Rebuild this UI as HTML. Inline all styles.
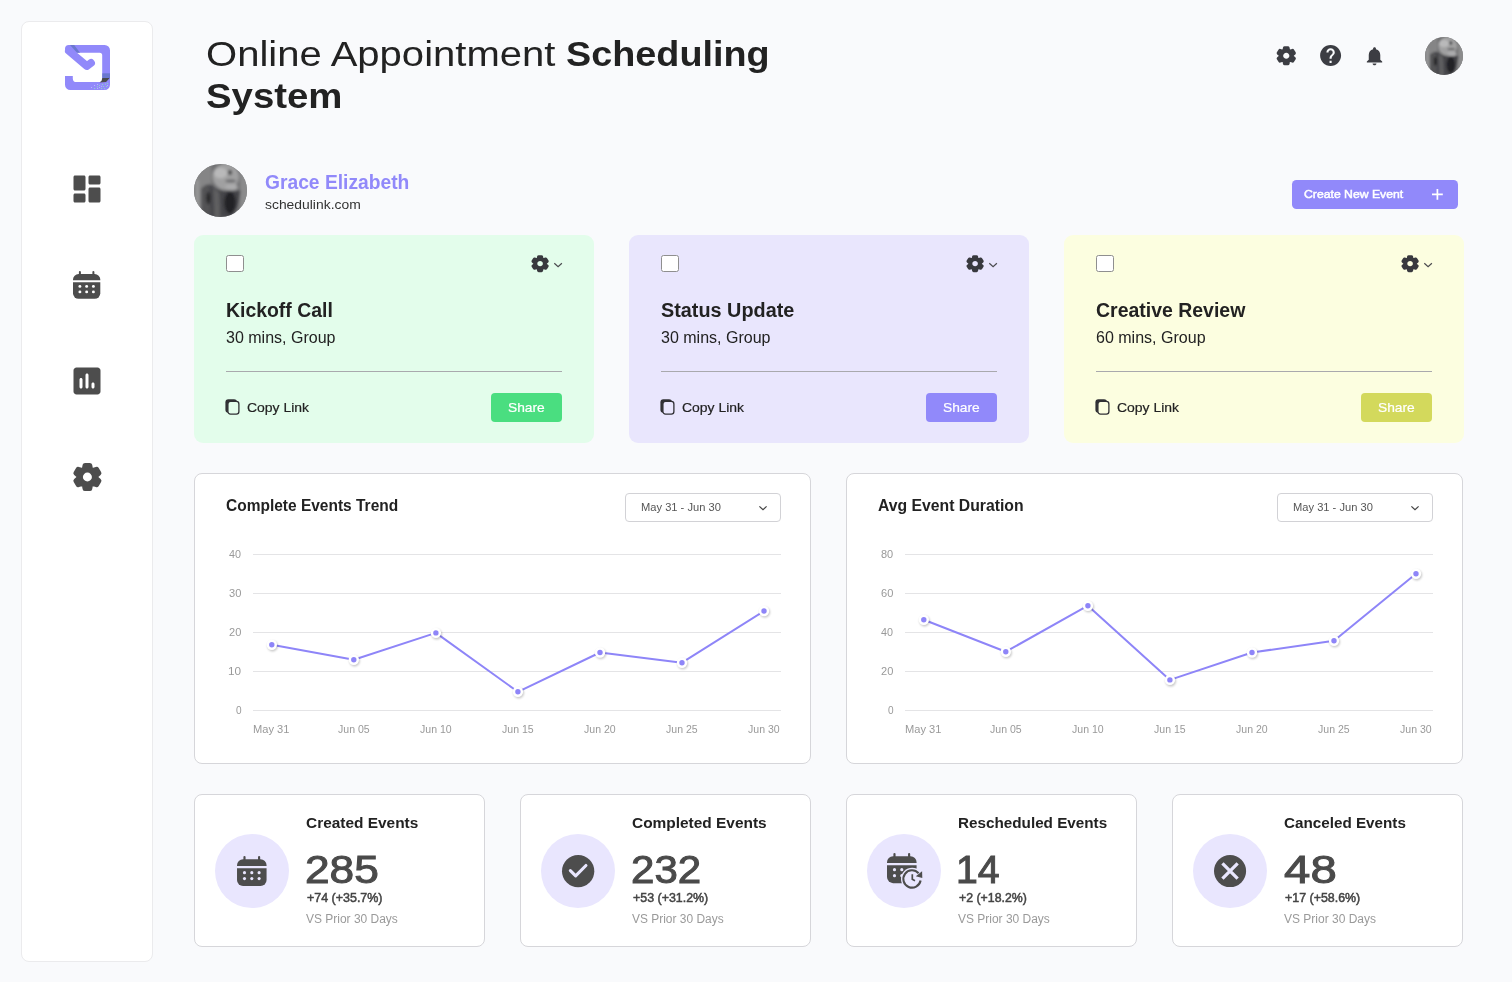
<!DOCTYPE html>
<html lang="en"><head><meta charset="utf-8"><title>Online Appointment Scheduling System</title>
<style>
html,body{margin:0;padding:0}
body{width:1512px;height:982px;overflow:hidden;position:relative;background:#f9fafc;font-family:'Liberation Sans',sans-serif;color:#222}
.t{position:absolute;white-space:pre;transform-origin:0 50%;display:block}
.i{position:absolute;display:block;overflow:visible}
.b{position:absolute;box-sizing:border-box}
aside{position:absolute;box-sizing:border-box;left:21px;top:21px;width:132px;height:941px;background:#fff;border:1px solid #ebebed;border-radius:8px}
.card{position:absolute;box-sizing:border-box;background:#fff;border:1px solid #d6d6da;border-radius:8px}
.ev{position:absolute;top:235px;width:400px;height:207.600px;border-radius:9px}
.cb{position:absolute;box-sizing:border-box;width:18px;height:17px;background:#fff;border:1px solid #8f8f8f;border-radius:2.5px}
.hr{position:absolute;height:1px;background:#a9a9ad}
.share{position:absolute;width:71px;height:28.700px;border-radius:4px;top:393.2px}
.av{position:absolute;border-radius:50%;overflow:hidden;background:#6a6a6c}
.dd{position:absolute;box-sizing:border-box;top:493px;width:156px;height:29px;border:1px solid #d2d2d6;border-radius:4px;background:#fff}
.circ{position:absolute;width:74px;height:74px;border-radius:50%;background:#e9e6fe;top:834px}
</style></head><body>
<aside></aside>
<svg class="i" style="left:65.00px;top:45.00px" width="45.00" height="45.00" viewBox="0 0 45 45" ><g fill="none" stroke="#9189fa" stroke-width="7.7">
<path d="M3.85 5.900L21.800 21.060L26.080 17.920" stroke-linecap="round" stroke-linejoin="round"/></g>
<path fill="#9189fa" d="M0 31V39.700A5.300 5.300 0 0 0 5.300 45H39.700A5.300 5.300 0 0 0 45 39.700V5.300A5.300 5.300 0 0 0 39.700 0H3.850A3.850 3.850 0 0 0 3.850 7.700H34.700A2.500 2.500 0 0 1 37.200 10.200V34.600A2.500 2.500 0 0 1 34.700 37.100H11.500A3.700 3.700 0 0 1 7.800 33.400V31Z"/>
<path d="M37.300 28.300h7.700v4.700h-7.700z" fill="#6b78cf"/>
<path d="M37.300 33h7.400l-3.600 4l-6.600 0.500q2.800-1.600 2.800-4.500z" fill="#4a4a4c"/>
<path d="M5 0h4.200l5.800 7.700h-3z" fill="#6b78cf"/>
<g fill="#8dfab0"><circle cx="29.700" cy="43.500" r=".5"/><circle cx="32.600" cy="41.700" r=".5"/><circle cx="34.700" cy="40.500" r=".5"/><circle cx="37.600" cy="39.400" r=".5"/><circle cx="40.500" cy="39" r=".5"/><circle cx="42.600" cy="38.300" r=".5"/><circle cx="38.600" cy="41.600" r=".5"/><circle cx="41.600" cy="41.600" r=".5"/><circle cx="36.700" cy="43.500" r=".5"/><circle cx="39.600" cy="43.700" r=".5"/></g>
<g fill="#c9c5ff"><circle cx="26.500" cy="42.500" r=".5"/><circle cx="29.600" cy="40.500" r=".5"/><circle cx="32.600" cy="39.500" r=".5"/><circle cx="34.600" cy="42.500" r=".5"/><circle cx="36.600" cy="41.300" r=".5"/><circle cx="32.600" cy="43.600" r=".5"/><circle cx="42.600" cy="40.500" r=".5"/></g></svg>
<svg class="i" style="left:68.50px;top:170.50px" width="36.00" height="36.00" viewBox="0 0 24 24" ><path fill="#4d4d4d" d="M4 13h6c.55 0 1-.45 1-1V4c0-.55-.45-1-1-1H4c-.55 0-1 .45-1 1v8c0 .55.45 1 1 1zm0 8h6c.55 0 1-.45 1-1v-4c0-.55-.45-1-1-1H4c-.55 0-1 .45-1 1v4c0 .55.45 1 1 1zm10 0h6c.55 0 1-.45 1-1v-8c0-.55-.45-1-1-1h-6c-.55 0-1 .45-1 1v8c0 .55.45 1 1 1zM13 4v4c0 .55.45 1 1 1h6c.55 0 1-.45 1-1V4c0-.55-.45-1-1-1h-6c-.55 0-1 .45-1 1z"/></svg>
<svg class="i" style="left:73.00px;top:270.90px" width="27.30" height="27.80" viewBox="0 0 27.3 27.8" ><g fill="#4d4d4d"><rect x="5.9" y="0" width="2" height="5" rx="1"/><rect x="19.4" y="0" width="2" height="5" rx="1"/><path d="M0 9.3V8.6a5.6 5.600 0 0 1 5.600-5.600H21.700a5.600 5.600 0 0 1 5.600 5.600V9.300z"/><path d="M0 11.3H27.300V22.200a5.600 5.600 0 0 1-5.600 5.600H5.600a5.600 5.600 0 0 1-5.600-5.600z"/></g><circle cx="6.9" cy="15.4" r="1.45" fill="#fff"/><circle cx="13.65" cy="15.4" r="1.45" fill="#fff"/><circle cx="20.4" cy="15.4" r="1.45" fill="#fff"/><circle cx="6.9" cy="20.9" r="1.45" fill="#fff"/><circle cx="13.65" cy="20.9" r="1.45" fill="#fff"/><circle cx="20.4" cy="20.9" r="1.45" fill="#fff"/></svg>
<svg class="i" style="left:68.50px;top:362.50px" width="36.00" height="36.00" viewBox="0 0 24 24" ><path fill="#4d4d4d" d="M19 3H5c-1.1 0-2 .9-2 2v14c0 1.1.9 2 2 2h14c1.1 0 2-.9 2-2V5c0-1.1-.9-2-2-2zM8 17c-.55 0-1-.45-1-1v-5c0-.55.45-1 1-1s1 .45 1 1v5c0 .55-.45 1-1 1zm4 0c-.55 0-1-.45-1-1V8c0-.55.45-1 1-1s1 .45 1 1v8c0 .55-.45 1-1 1zm4 0c-.55 0-1-.45-1-1v-2c0-.55.45-1 1-1s1 .45 1 1v2c0 .55-.45 1-1 1z"/></svg>
<svg class="i" style="left:70.59px;top:460.90px" width="32.82" height="32.00" viewBox="-16 -16 32 32" preserveAspectRatio="none"><path fill="#4d4d4d" stroke="#4d4d4d" stroke-width="4.8" stroke-linejoin="round" fill-rule="evenodd" d="M-3.03 -8.05L-2.30 -11.70L2.30 -11.70L3.03 -8.05L5.45 -6.65L8.98 -7.84L11.28 -3.86L8.49 -1.40L8.49 1.40L11.28 3.86L8.98 7.84L5.45 6.65L3.03 8.05L2.30 11.70L-2.30 11.70L-3.03 8.05L-5.45 6.65L-8.98 7.84L-11.28 3.86L-8.49 1.40L-8.49 -1.40L-11.28 -3.86L-8.98 -7.84L-5.45 -6.65ZM6.80 0A6.80 6.80 0 1 0 -6.80 0A6.80 6.80 0 1 0 6.80 0Z"/></svg>
<header>
<span class="t" style="left:205.86px;top:33px;font-size:35.4px;line-height:42px;font-weight:400;color:#222;letter-spacing:0.000px;transform:scaleX(1.1312);">Online Appointment</span><span class="t" style="left:566.23px;top:33px;font-size:35.4px;line-height:42px;font-weight:700;color:#222;letter-spacing:0.000px;transform:scaleX(1.0677);">Scheduling</span><span class="t" style="left:206.21px;top:75px;font-size:35.4px;line-height:42px;font-weight:700;color:#222;letter-spacing:-0.000px;transform:scaleX(1.0836);">System</span>
<svg class="i" style="left:1275.28px;top:44.62px" width="22.54" height="21.56" viewBox="-16 -16 32 32" preserveAspectRatio="none"><path fill="#3c3d43" stroke="#3c3d43" stroke-width="4.8" stroke-linejoin="round" fill-rule="evenodd" d="M-3.03 -8.05L-2.30 -11.70L2.30 -11.70L3.03 -8.05L5.45 -6.65L8.98 -7.84L11.28 -3.86L8.49 -1.40L8.49 1.40L11.28 3.86L8.98 7.84L5.45 6.65L3.03 8.05L2.30 11.70L-2.30 11.70L-3.03 8.05L-5.45 6.65L-8.98 7.84L-11.28 3.86L-8.49 1.40L-8.49 -1.40L-11.28 -3.86L-8.98 -7.84L-5.45 -6.65ZM6.80 0A6.80 6.80 0 1 0 -6.80 0A6.80 6.80 0 1 0 6.80 0Z"/></svg>
<svg class="i" style="left:1318.00px;top:42.80px" width="25.20" height="25.20" viewBox="0 0 24 24" ><path fill="#3c3d43" d="M12 2C6.48 2 2 6.48 2 12s4.48 10 10 10 10-4.48 10-10S17.52 2 12 2zm1 17h-2v-2h2v2zm2.07-7.75l-.9.92C13.45 12.9 13 13.5 13 15h-2v-.5c0-1.1.45-2.1 1.17-2.830l1.240-1.260c.37-.36.59-.86.59-1.410 0-1.100-.9-2-2-2s-2 .9-2 2H8c0-2.210 1.790-4 4-4s4 1.790 4 4c0 .880-.36 1.680-.93 2.250z"/></svg>
<svg class="i" style="left:1363.18px;top:44.80px" width="23.04" height="22.08" viewBox="0 0 24 24" preserveAspectRatio="none"><path fill="#3c3d43" d="M12 22c1.1 0 2-.9 2-2h-4c0 1.100.89 2 2 2zm6-6v-5c0-3.070-1.640-5.640-4.500-6.320V4c0-.830-.67-1.500-1.500-1.500s-1.500.670-1.500 1.500v.680C7.630 5.360 6 7.920 6 11v5l-2 2v1h16v-1l-2-2z"/></svg>
<svg class="i" style="left:1425.00px;top:36.70px" width="38.00" height="38.00" viewBox="0 0 100 100" ><defs><clipPath id="avc1"><circle cx="50" cy="50" r="50"/></clipPath><filter id="avb1" x="-10%" y="-10%" width="120%" height="120%"><feGaussianBlur stdDeviation="3"/></filter></defs>
<g clip-path="url(#avc1)"><rect width="100" height="100" fill="#6f6f71"/><g filter="url(#avb1)">
<rect x="-5" y="-5" width="38" height="110" fill="#858586"/>
<rect x="4" y="30" width="5" height="60" fill="#9a9a9b"/>
<rect x="87" y="15" width="20" height="80" fill="#8b8b8c"/>
<ellipse cx="60" cy="24" rx="25" ry="25" fill="#a0a0a1"/>
<ellipse cx="50" cy="17" rx="13" ry="10" fill="#b9b9ba"/>
<ellipse cx="71" cy="44" rx="12" ry="6" fill="#acacad"/>
<path d="M14 46Q24 36 34 40Q44 50 60 51L88 50Q86 80 70 100L14 104Z" fill="#444448"/>
<path d="M36 44L48 54L50 104L38 104Z" fill="#5e5e61"/>
<path d="M14 46Q22 38 30 44L32 100L14 100Z" fill="#525255"/>
<ellipse cx="68" cy="73" rx="11" ry="21" fill="#232325"/>
<ellipse cx="27" cy="64" rx="3.600" ry="12" fill="#222224"/>
<ellipse cx="68" cy="16" rx="3.600" ry="4.600" fill="#2e2e30"/>
<ellipse cx="69" cy="32" rx="10" ry="2.200" fill="#59595c"/>
</g></g></svg>
</header>
<section>
<svg class="i" style="left:194.00px;top:163.70px" width="53.00" height="53.00" viewBox="0 0 100 100" ><defs><clipPath id="avc2"><circle cx="50" cy="50" r="50"/></clipPath><filter id="avb2" x="-10%" y="-10%" width="120%" height="120%"><feGaussianBlur stdDeviation="3"/></filter></defs>
<g clip-path="url(#avc2)"><rect width="100" height="100" fill="#6f6f71"/><g filter="url(#avb2)">
<rect x="-5" y="-5" width="38" height="110" fill="#858586"/>
<rect x="4" y="30" width="5" height="60" fill="#9a9a9b"/>
<rect x="87" y="15" width="20" height="80" fill="#8b8b8c"/>
<ellipse cx="60" cy="24" rx="25" ry="25" fill="#a0a0a1"/>
<ellipse cx="50" cy="17" rx="13" ry="10" fill="#b9b9ba"/>
<ellipse cx="71" cy="44" rx="12" ry="6" fill="#acacad"/>
<path d="M14 46Q24 36 34 40Q44 50 60 51L88 50Q86 80 70 100L14 104Z" fill="#444448"/>
<path d="M36 44L48 54L50 104L38 104Z" fill="#5e5e61"/>
<path d="M14 46Q22 38 30 44L32 100L14 100Z" fill="#525255"/>
<ellipse cx="68" cy="73" rx="11" ry="21" fill="#232325"/>
<ellipse cx="27" cy="64" rx="3.600" ry="12" fill="#222224"/>
<ellipse cx="68" cy="16" rx="3.600" ry="4.600" fill="#2e2e30"/>
<ellipse cx="69" cy="32" rx="10" ry="2.200" fill="#59595c"/>
</g></g></svg>
<span class="t" style="left:265.21px;top:171px;font-size:19.5px;line-height:23px;font-weight:700;color:#9189fa;letter-spacing:0.000px;transform:scaleX(0.9868);">Grace Elizabeth</span><span class="t" style="left:265.35px;top:197px;font-size:13.5px;line-height:16px;font-weight:400;color:#333;letter-spacing:-0.000px;transform:scaleX(1.0288);">schedulink.com</span>
<div class="b" style="left:1292px;top:180px;width:166.300px;height:29.200px;border-radius:4.5px;background:#9189fa"></div>
<span class="t" style="left:1304.46px;top:187px;font-size:11.8px;line-height:14px;font-weight:400;color:#fff;letter-spacing:0.000px;transform:scaleX(1.0358);-webkit-text-stroke:0.5px currentColor;">Create New Event</span>
<svg class="i" style="left:1432.20px;top:189.30px" width="10.80" height="10.80" viewBox="0 0 10.8 10.8" ><path d="M5.400 0V10.800M0 5.400H10.800" stroke="#fff" stroke-width="1.700" fill="none"/></svg>
</section>
<section>
<article class="ev" style="left:194px;background:#e3fdeb"></article>
<div class="cb" style="left:226px;top:255px"></div>
<svg class="i" style="left:529.50px;top:253.85px" width="20.20" height="19.29" viewBox="-16 -16 32 32" preserveAspectRatio="none"><path fill="#38393e" stroke="#38393e" stroke-width="4.8" stroke-linejoin="round" fill-rule="evenodd" d="M-3.03 -8.05L-2.30 -11.70L2.30 -11.70L3.03 -8.05L5.45 -6.65L8.98 -7.84L11.28 -3.86L8.49 -1.40L8.49 1.40L11.28 3.86L8.98 7.84L5.45 6.65L3.03 8.05L2.30 11.70L-2.30 11.70L-3.03 8.05L-5.45 6.65L-8.98 7.84L-11.28 3.86L-8.49 1.40L-8.49 -1.40L-11.28 -3.86L-8.98 -7.84L-5.45 -6.65ZM6.80 0A6.80 6.80 0 1 0 -6.80 0A6.80 6.80 0 1 0 6.80 0Z"/></svg>
<svg class="i" style="left:553.90px;top:262.90px" width="8.20" height="4.20" viewBox="0 0 8.2 4.2" ><path d="M.3 .3L4.100 3.700L7.900 .3" stroke="#4a4a4e" stroke-width="1.200" fill="none"/></svg>
<span class="t" style="left:226.18px;top:298px;font-size:19.6px;line-height:24px;font-weight:700;color:#222;letter-spacing:0.000px;transform:scaleX(0.9907);">Kickoff Call</span>
<span class="t" style="left:225.89px;top:328px;font-size:16px;line-height:19px;font-weight:400;color:#222;letter-spacing:0.000px;transform:scaleX(1.0011);">30 mins, Group</span>
<div class="hr" style="left:226px;top:371px;width:336px"></div>
<svg class="i" style="left:224.80px;top:398.80px" width="15.00" height="16.20" viewBox="0 0 15 16.200" ><rect x=".4" y=".3" width="11.600" height="13.400" rx="3" fill="#303034"/><rect x="2.900" y="2.300" width="11" height="12.800" rx="2.600" fill="#e3fdeb" stroke="#303034" stroke-width="1.300"/></svg>
<span class="t" style="left:247.09px;top:400px;font-size:13.4px;line-height:16px;font-weight:400;color:#222;letter-spacing:0.000px;transform:scaleX(1.0407);-webkit-text-stroke:0.2px currentColor;">Copy Link</span>
<div class="share" style="left:491px;background:#4ade80"></div>
<span class="t" style="left:508.11px;top:400px;font-size:12.8px;line-height:15px;font-weight:400;color:#fff;letter-spacing:0.000px;transform:scaleX(1.0757);-webkit-text-stroke:0.2px currentColor;">Share</span>
<article class="ev" style="left:629px;background:#e9e6fd"></article>
<div class="cb" style="left:661px;top:255px"></div>
<svg class="i" style="left:964.50px;top:253.85px" width="20.20" height="19.29" viewBox="-16 -16 32 32" preserveAspectRatio="none"><path fill="#38393e" stroke="#38393e" stroke-width="4.8" stroke-linejoin="round" fill-rule="evenodd" d="M-3.03 -8.05L-2.30 -11.70L2.30 -11.70L3.03 -8.05L5.45 -6.65L8.98 -7.84L11.28 -3.86L8.49 -1.40L8.49 1.40L11.28 3.86L8.98 7.84L5.45 6.65L3.03 8.05L2.30 11.70L-2.30 11.70L-3.03 8.05L-5.45 6.65L-8.98 7.84L-11.28 3.86L-8.49 1.40L-8.49 -1.40L-11.28 -3.86L-8.98 -7.84L-5.45 -6.65ZM6.80 0A6.80 6.80 0 1 0 -6.80 0A6.80 6.80 0 1 0 6.80 0Z"/></svg>
<svg class="i" style="left:988.90px;top:262.90px" width="8.20" height="4.20" viewBox="0 0 8.2 4.2" ><path d="M.3 .3L4.100 3.700L7.900 .3" stroke="#4a4a4e" stroke-width="1.200" fill="none"/></svg>
<span class="t" style="left:660.92px;top:298px;font-size:19.6px;line-height:24px;font-weight:700;color:#222;letter-spacing:0.000px;transform:scaleX(1.0121);">Status Update</span>
<span class="t" style="left:660.89px;top:328px;font-size:16px;line-height:19px;font-weight:400;color:#222;letter-spacing:0.000px;transform:scaleX(1.0011);">30 mins, Group</span>
<div class="hr" style="left:661px;top:371px;width:336px"></div>
<svg class="i" style="left:659.80px;top:398.80px" width="15.00" height="16.20" viewBox="0 0 15 16.200" ><rect x=".4" y=".3" width="11.600" height="13.400" rx="3" fill="#303034"/><rect x="2.900" y="2.300" width="11" height="12.800" rx="2.600" fill="#e9e6fd" stroke="#303034" stroke-width="1.300"/></svg>
<span class="t" style="left:682.09px;top:400px;font-size:13.4px;line-height:16px;font-weight:400;color:#222;letter-spacing:0.000px;transform:scaleX(1.0407);-webkit-text-stroke:0.2px currentColor;">Copy Link</span>
<div class="share" style="left:926px;background:#9189fa"></div>
<span class="t" style="left:943.11px;top:400px;font-size:12.8px;line-height:15px;font-weight:400;color:#fff;letter-spacing:0.000px;transform:scaleX(1.0757);-webkit-text-stroke:0.2px currentColor;">Share</span>
<article class="ev" style="left:1064px;background:#fcfee0"></article>
<div class="cb" style="left:1096px;top:255px"></div>
<svg class="i" style="left:1399.50px;top:253.85px" width="20.20" height="19.29" viewBox="-16 -16 32 32" preserveAspectRatio="none"><path fill="#38393e" stroke="#38393e" stroke-width="4.8" stroke-linejoin="round" fill-rule="evenodd" d="M-3.03 -8.05L-2.30 -11.70L2.30 -11.70L3.03 -8.05L5.45 -6.65L8.98 -7.84L11.28 -3.86L8.49 -1.40L8.49 1.40L11.28 3.86L8.98 7.84L5.45 6.65L3.03 8.05L2.30 11.70L-2.30 11.70L-3.03 8.05L-5.45 6.65L-8.98 7.84L-11.28 3.86L-8.49 1.40L-8.49 -1.40L-11.28 -3.86L-8.98 -7.84L-5.45 -6.65ZM6.80 0A6.80 6.80 0 1 0 -6.80 0A6.80 6.80 0 1 0 6.80 0Z"/></svg>
<svg class="i" style="left:1423.90px;top:262.90px" width="8.20" height="4.20" viewBox="0 0 8.2 4.2" ><path d="M.3 .3L4.100 3.700L7.900 .3" stroke="#4a4a4e" stroke-width="1.200" fill="none"/></svg>
<span class="t" style="left:1095.86px;top:298px;font-size:19.6px;line-height:24px;font-weight:700;color:#222;letter-spacing:0.000px;transform:scaleX(0.9932);">Creative Review</span>
<span class="t" style="left:1095.85px;top:328px;font-size:16px;line-height:19px;font-weight:400;color:#222;letter-spacing:0.000px;transform:scaleX(1.0015);">60 mins, Group</span>
<div class="hr" style="left:1096px;top:371px;width:336px"></div>
<svg class="i" style="left:1094.80px;top:398.80px" width="15.00" height="16.20" viewBox="0 0 15 16.200" ><rect x=".4" y=".3" width="11.600" height="13.400" rx="3" fill="#303034"/><rect x="2.900" y="2.300" width="11" height="12.800" rx="2.600" fill="#fcfee0" stroke="#303034" stroke-width="1.300"/></svg>
<span class="t" style="left:1117.09px;top:400px;font-size:13.4px;line-height:16px;font-weight:400;color:#222;letter-spacing:0.000px;transform:scaleX(1.0407);-webkit-text-stroke:0.2px currentColor;">Copy Link</span>
<div class="share" style="left:1361px;background:#d3d95c"></div>
<span class="t" style="left:1378.11px;top:400px;font-size:12.8px;line-height:15px;font-weight:400;color:#fff;letter-spacing:0.000px;transform:scaleX(1.0757);-webkit-text-stroke:0.2px currentColor;">Share</span>
</section>
<section>
<div class="card" style="left:194px;top:473px;width:617px;height:291px"></div>
<span class="t" style="left:226.20px;top:496px;font-size:15.6px;line-height:19px;font-weight:700;color:#222;letter-spacing:0.000px;transform:scaleX(0.9935);">Complete Events Trend</span>
<div class="dd" style="left:625px"></div>
<span class="t" style="left:640.87px;top:501px;font-size:10.8px;line-height:13px;font-weight:400;color:#555;letter-spacing:0.000px;transform:scaleX(1.0316);">May 31 - Jun 30</span>
<svg class="i" style="left:759.00px;top:506.10px" width="8.00" height="4.40" viewBox="0 0 8 4.400" ><path d="M.4 .4L4 3.800L7.600 .4" stroke="#444" stroke-width="1.200" fill="none"/></svg>
<svg class="i" style="left:194.00px;top:540.00px" width="617.00" height="180.00" viewBox="0 0 617 180" ><defs><filter id="ds0" x="-50%" y="-50%" width="200%" height="200%"><feGaussianBlur stdDeviation="1.1"/></filter></defs><line x1="59" x2="587" y1="14.5" y2="14.5" stroke="#e4e4e6" stroke-width="1"/><line x1="59" x2="587" y1="53.5" y2="53.5" stroke="#e4e4e6" stroke-width="1"/><line x1="59" x2="587" y1="92.5" y2="92.5" stroke="#e4e4e6" stroke-width="1"/><line x1="59" x2="587" y1="131.5" y2="131.5" stroke="#e4e4e6" stroke-width="1"/><line x1="59" x2="587" y1="170.5" y2="170.5" stroke="#e4e4e6" stroke-width="1"/><polyline points="77.8,104.8 159.8,119.8 241.9,92.9 323.9,151.8 406.0,112.5 488.0,122.7 570.0,71.0" fill="none" stroke="#8e85f8" stroke-width="2" stroke-linejoin="round"/><circle cx="78.6" cy="106.1" r="5.300" fill="#000" opacity=".22" filter="url(#ds0)"/><circle cx="77.8" cy="104.8" r="5.200" fill="#fff"/><circle cx="77.8" cy="104.8" r="2.700" fill="#8e85f8"/><circle cx="160.6" cy="121.1" r="5.300" fill="#000" opacity=".22" filter="url(#ds0)"/><circle cx="159.8" cy="119.8" r="5.200" fill="#fff"/><circle cx="159.8" cy="119.8" r="2.700" fill="#8e85f8"/><circle cx="242.7" cy="94.2" r="5.300" fill="#000" opacity=".22" filter="url(#ds0)"/><circle cx="241.9" cy="92.9" r="5.200" fill="#fff"/><circle cx="241.9" cy="92.9" r="2.700" fill="#8e85f8"/><circle cx="324.7" cy="153.1" r="5.300" fill="#000" opacity=".22" filter="url(#ds0)"/><circle cx="323.9" cy="151.8" r="5.200" fill="#fff"/><circle cx="323.9" cy="151.8" r="2.700" fill="#8e85f8"/><circle cx="406.8" cy="113.8" r="5.300" fill="#000" opacity=".22" filter="url(#ds0)"/><circle cx="406.0" cy="112.5" r="5.200" fill="#fff"/><circle cx="406.0" cy="112.5" r="2.700" fill="#8e85f8"/><circle cx="488.8" cy="124.0" r="5.300" fill="#000" opacity=".22" filter="url(#ds0)"/><circle cx="488.0" cy="122.7" r="5.200" fill="#fff"/><circle cx="488.0" cy="122.7" r="2.700" fill="#8e85f8"/><circle cx="570.8" cy="72.3" r="5.300" fill="#000" opacity=".22" filter="url(#ds0)"/><circle cx="570.0" cy="71.0" r="5.200" fill="#fff"/><circle cx="570.0" cy="71.0" r="2.700" fill="#8e85f8"/></svg>
<div class="card" style="left:846px;top:473px;width:617px;height:291px"></div>
<span class="t" style="left:878.03px;top:496px;font-size:15.6px;line-height:19px;font-weight:700;color:#222;letter-spacing:0.000px;transform:scaleX(1.0096);">Avg Event Duration</span>
<div class="dd" style="left:1277px"></div>
<span class="t" style="left:1292.87px;top:501px;font-size:10.8px;line-height:13px;font-weight:400;color:#555;letter-spacing:0.000px;transform:scaleX(1.0316);">May 31 - Jun 30</span>
<svg class="i" style="left:1411.00px;top:506.10px" width="8.00" height="4.40" viewBox="0 0 8 4.400" ><path d="M.4 .4L4 3.800L7.600 .4" stroke="#444" stroke-width="1.200" fill="none"/></svg>
<svg class="i" style="left:846.00px;top:540.00px" width="617.00" height="180.00" viewBox="0 0 617 180" ><defs><filter id="ds1" x="-50%" y="-50%" width="200%" height="200%"><feGaussianBlur stdDeviation="1.1"/></filter></defs><line x1="59" x2="587" y1="14.5" y2="14.5" stroke="#e4e4e6" stroke-width="1"/><line x1="59" x2="587" y1="53.5" y2="53.5" stroke="#e4e4e6" stroke-width="1"/><line x1="59" x2="587" y1="92.5" y2="92.5" stroke="#e4e4e6" stroke-width="1"/><line x1="59" x2="587" y1="131.5" y2="131.5" stroke="#e4e4e6" stroke-width="1"/><line x1="59" x2="587" y1="170.5" y2="170.5" stroke="#e4e4e6" stroke-width="1"/><polyline points="77.8,79.8 159.8,111.7 241.9,65.7 323.9,139.9 406.0,112.5 488.0,100.7 570.0,33.8" fill="none" stroke="#8e85f8" stroke-width="2" stroke-linejoin="round"/><circle cx="78.6" cy="81.1" r="5.300" fill="#000" opacity=".22" filter="url(#ds1)"/><circle cx="77.8" cy="79.8" r="5.200" fill="#fff"/><circle cx="77.8" cy="79.8" r="2.700" fill="#8e85f8"/><circle cx="160.6" cy="113.0" r="5.300" fill="#000" opacity=".22" filter="url(#ds1)"/><circle cx="159.8" cy="111.7" r="5.200" fill="#fff"/><circle cx="159.8" cy="111.7" r="2.700" fill="#8e85f8"/><circle cx="242.7" cy="67.0" r="5.300" fill="#000" opacity=".22" filter="url(#ds1)"/><circle cx="241.9" cy="65.7" r="5.200" fill="#fff"/><circle cx="241.9" cy="65.7" r="2.700" fill="#8e85f8"/><circle cx="324.7" cy="141.2" r="5.300" fill="#000" opacity=".22" filter="url(#ds1)"/><circle cx="323.9" cy="139.9" r="5.200" fill="#fff"/><circle cx="323.9" cy="139.9" r="2.700" fill="#8e85f8"/><circle cx="406.8" cy="113.8" r="5.300" fill="#000" opacity=".22" filter="url(#ds1)"/><circle cx="406.0" cy="112.5" r="5.200" fill="#fff"/><circle cx="406.0" cy="112.5" r="2.700" fill="#8e85f8"/><circle cx="488.8" cy="102.0" r="5.300" fill="#000" opacity=".22" filter="url(#ds1)"/><circle cx="488.0" cy="100.7" r="5.200" fill="#fff"/><circle cx="488.0" cy="100.7" r="2.700" fill="#8e85f8"/><circle cx="570.8" cy="35.1" r="5.300" fill="#000" opacity=".22" filter="url(#ds1)"/><circle cx="570.0" cy="33.8" r="5.200" fill="#fff"/><circle cx="570.0" cy="33.8" r="2.700" fill="#8e85f8"/></svg>
</section>
<section>
<div class="card" style="left:194px;top:794px;width:291px;height:153px"></div>
<div class="circ" style="left:215px"></div>
<div class="card" style="left:520px;top:794px;width:291px;height:153px"></div>
<div class="circ" style="left:541px"></div>
<div class="card" style="left:846px;top:794px;width:291px;height:153px"></div>
<div class="circ" style="left:867px"></div>
<div class="card" style="left:1172px;top:794px;width:291px;height:153px"></div>
<div class="circ" style="left:1193px"></div>
<svg class="i" style="left:236.90px;top:855.90px" width="29.60" height="30.10" viewBox="0 0 27.3 27.8" ><g fill="#4d4d4d"><rect x="5.9" y="0" width="2" height="5" rx="1"/><rect x="19.4" y="0" width="2" height="5" rx="1"/><path d="M0 9.3V8.6a5.6 5.600 0 0 1 5.600-5.600H21.700a5.600 5.600 0 0 1 5.600 5.600V9.300z"/><path d="M0 11.3H27.300V22.200a5.600 5.600 0 0 1-5.600 5.600H5.600a5.600 5.600 0 0 1-5.600-5.600z"/></g><circle cx="6.9" cy="15.4" r="1.45" fill="#e9e6fe"/><circle cx="13.65" cy="15.4" r="1.45" fill="#e9e6fe"/><circle cx="20.4" cy="15.4" r="1.45" fill="#e9e6fe"/><circle cx="6.9" cy="20.9" r="1.45" fill="#e9e6fe"/><circle cx="13.65" cy="20.9" r="1.45" fill="#e9e6fe"/><circle cx="20.4" cy="20.9" r="1.45" fill="#e9e6fe"/></svg>
<svg class="i" style="left:561.85px;top:854.85px" width="32.30" height="32.30" viewBox="0 0 32.3 32.3" ><circle cx="16.150" cy="16.150" r="16.150" fill="#4d4d4d"/><path d="M8.350 15.600L13.650 20.900L23.950 10.500" fill="none" stroke="#e9e6fe" stroke-width="3.100" stroke-linecap="round" stroke-linejoin="round"/></svg>
<svg class="i" style="left:887.00px;top:853.20px" width="36.00" height="36.00" viewBox="0 0 36 36" ><g transform="scale(1.084)"><g fill="#4d4d4d"><rect x="5.9" y="0" width="2" height="5" rx="1"/><rect x="19.4" y="0" width="2" height="5" rx="1"/><path d="M0 9.3V8.6a5.6 5.600 0 0 1 5.600-5.600H21.700a5.600 5.600 0 0 1 5.600 5.600V9.300z"/><path d="M0 11.3H27.300V22.200a5.600 5.600 0 0 1-5.600 5.600H5.600a5.600 5.600 0 0 1-5.600-5.600z"/></g><circle cx="6.9" cy="15.4" r="1.45" fill="#e9e6fe"/><circle cx="13.65" cy="15.4" r="1.45" fill="#e9e6fe"/><circle cx="6.9" cy="20.9" r="1.45" fill="#e9e6fe"/><circle cx="13.65" cy="20.9" r="1.45" fill="#e9e6fe"/></g><circle cx="25.200" cy="25.900" r="11.200" fill="#e9e6fe"/>
<path d="M33.600 27.500A8.700 8.700 0 1 1 31.600 20.200" fill="none" stroke="#4d4d4d" stroke-width="2.100"/>
<path d="M35.100 18.200L35.300 24.900L28.800 23.300z" fill="#4d4d4d"/>
<path d="M25.300 21.300V26.200L28 27.700" fill="none" stroke="#4d4d4d" stroke-width="1.700"/></svg>
<svg class="i" style="left:1213.95px;top:854.95px" width="32.10" height="32.10" viewBox="0 0 32.1 32.1" ><circle cx="16.050" cy="16.050" r="16.050" fill="#4d4d4d"/><path d="M8.450 8.450L23.650 23.650M23.650 8.450L8.450 23.650" stroke="#e9e6fe" stroke-width="3.300" fill="none"/></svg>
</section>
<span class="t" style="left:306.10px;top:814px;font-size:15.4px;line-height:18px;font-weight:700;color:#222;letter-spacing:-0.000px;transform:scaleX(1.0021);">Created Events</span>
<span class="t" style="left:305.13px;top:846px;font-size:39.4px;line-height:47px;font-weight:400;color:#4a4a4a;letter-spacing:0.000px;transform:scaleX(1.1234);-webkit-text-stroke:1.0px currentColor;">285</span>
<span class="t" style="left:306.53px;top:891px;font-size:12.5px;line-height:15px;font-weight:400;color:#444;letter-spacing:0.000px;transform:scaleX(0.9969);-webkit-text-stroke:0.5px currentColor;">+74 (+35.7%)</span>
<span class="t" style="left:305.55px;top:912px;font-size:12px;line-height:14px;font-weight:400;color:#9a9a9a;letter-spacing:0.000px;transform:scaleX(0.9976);">VS Prior 30 Days</span>
<span class="t" style="left:632.30px;top:814px;font-size:15.4px;line-height:18px;font-weight:700;color:#222;letter-spacing:0.000px;transform:scaleX(1.0030);">Completed Events</span>
<span class="t" style="left:631.41px;top:846px;font-size:39.4px;line-height:47px;font-weight:400;color:#4a4a4a;letter-spacing:-0.000px;transform:scaleX(1.0688);-webkit-text-stroke:1.0px currentColor;">232</span>
<span class="t" style="left:632.73px;top:891px;font-size:12.5px;line-height:15px;font-weight:400;color:#444;letter-spacing:0.000px;transform:scaleX(0.9929);-webkit-text-stroke:0.5px currentColor;">+53 (+31.2%)</span>
<span class="t" style="left:631.75px;top:912px;font-size:12px;line-height:14px;font-weight:400;color:#9a9a9a;letter-spacing:0.000px;transform:scaleX(0.9954);">VS Prior 30 Days</span>
<span class="t" style="left:957.81px;top:814px;font-size:15.4px;line-height:18px;font-weight:700;color:#222;letter-spacing:0.000px;transform:scaleX(0.9910);">Rescheduled Events</span>
<span class="t" style="left:956.30px;top:846px;font-size:39.4px;line-height:47px;font-weight:400;color:#4a4a4a;letter-spacing:0.000px;transform:scaleX(0.9965);-webkit-text-stroke:1.0px currentColor;">14</span>
<span class="t" style="left:958.53px;top:891px;font-size:12.5px;line-height:15px;font-weight:400;color:#444;letter-spacing:0.000px;transform:scaleX(0.9863);-webkit-text-stroke:0.5px currentColor;">+2 (+18.2%)</span>
<span class="t" style="left:957.55px;top:912px;font-size:12px;line-height:14px;font-weight:400;color:#9a9a9a;letter-spacing:0.000px;transform:scaleX(0.9976);">VS Prior 30 Days</span>
<span class="t" style="left:1284.11px;top:814px;font-size:15.4px;line-height:18px;font-weight:700;color:#222;letter-spacing:0.000px;transform:scaleX(0.9896);">Canceled Events</span>
<span class="t" style="left:1284.35px;top:846px;font-size:39.4px;line-height:47px;font-weight:400;color:#4a4a4a;letter-spacing:0.237px;transform:scaleX(1.2000);-webkit-text-stroke:1.0px currentColor;">48</span>
<span class="t" style="left:1284.53px;top:891px;font-size:12.5px;line-height:15px;font-weight:400;color:#444;letter-spacing:0.000px;transform:scaleX(0.9929);-webkit-text-stroke:0.5px currentColor;">+17 (+58.6%)</span>
<span class="t" style="left:1283.55px;top:912px;font-size:12px;line-height:14px;font-weight:400;color:#9a9a9a;letter-spacing:0.000px;transform:scaleX(0.9998);">VS Prior 30 Days</span>
<span class="t" style="left:253.02px;top:723px;font-size:10.8px;line-height:13px;font-weight:400;color:#999;letter-spacing:0.000px;transform:scaleX(1.0290);">May 31</span>
<span class="t" style="left:337.62px;top:723px;font-size:10.8px;line-height:13px;font-weight:400;color:#999;letter-spacing:0.000px;transform:scaleX(0.9757);">Jun 05</span>
<span class="t" style="left:419.66px;top:723px;font-size:10.8px;line-height:13px;font-weight:400;color:#999;letter-spacing:0.000px;transform:scaleX(0.9757);">Jun 10</span>
<span class="t" style="left:501.70px;top:723px;font-size:10.8px;line-height:13px;font-weight:400;color:#999;letter-spacing:0.000px;transform:scaleX(0.9757);">Jun 15</span>
<span class="t" style="left:583.74px;top:723px;font-size:10.8px;line-height:13px;font-weight:400;color:#999;letter-spacing:0.000px;transform:scaleX(0.9757);">Jun 20</span>
<span class="t" style="left:665.78px;top:723px;font-size:10.8px;line-height:13px;font-weight:400;color:#999;letter-spacing:0.000px;transform:scaleX(0.9757);">Jun 25</span>
<span class="t" style="left:747.82px;top:723px;font-size:10.8px;line-height:13px;font-weight:400;color:#999;letter-spacing:0.000px;transform:scaleX(0.9757);">Jun 30</span>
<span class="t" style="left:905.02px;top:723px;font-size:10.8px;line-height:13px;font-weight:400;color:#999;letter-spacing:0.000px;transform:scaleX(1.0290);">May 31</span>
<span class="t" style="left:989.62px;top:723px;font-size:10.8px;line-height:13px;font-weight:400;color:#999;letter-spacing:0.000px;transform:scaleX(0.9757);">Jun 05</span>
<span class="t" style="left:1071.66px;top:723px;font-size:10.8px;line-height:13px;font-weight:400;color:#999;letter-spacing:0.000px;transform:scaleX(0.9757);">Jun 10</span>
<span class="t" style="left:1153.70px;top:723px;font-size:10.8px;line-height:13px;font-weight:400;color:#999;letter-spacing:0.000px;transform:scaleX(0.9757);">Jun 15</span>
<span class="t" style="left:1235.74px;top:723px;font-size:10.8px;line-height:13px;font-weight:400;color:#999;letter-spacing:0.000px;transform:scaleX(0.9757);">Jun 20</span>
<span class="t" style="left:1317.78px;top:723px;font-size:10.8px;line-height:13px;font-weight:400;color:#999;letter-spacing:0.000px;transform:scaleX(0.9757);">Jun 25</span>
<span class="t" style="left:1399.82px;top:723px;font-size:10.8px;line-height:13px;font-weight:400;color:#999;letter-spacing:0.000px;transform:scaleX(0.9757);">Jun 30</span>
<span class="t" style="left:229.31px;top:548px;font-size:10.8px;line-height:13px;font-weight:400;color:#999;letter-spacing:0.000px;transform:scaleX(0.9972);">40</span>
<span class="t" style="left:228.97px;top:587px;font-size:10.8px;line-height:13px;font-weight:400;color:#999;letter-spacing:0.000px;transform:scaleX(1.0270);">30</span>
<span class="t" style="left:229.01px;top:626px;font-size:10.8px;line-height:13px;font-weight:400;color:#999;letter-spacing:0.000px;transform:scaleX(1.0229);">20</span>
<span class="t" style="left:228.25px;top:665px;font-size:10.8px;line-height:13px;font-weight:400;color:#999;letter-spacing:0.000px;transform:scaleX(1.0897);">10</span>
<span class="t" style="left:235.65px;top:704px;font-size:10.8px;line-height:13px;font-weight:400;color:#999;letter-spacing:0.000px;transform:scaleX(0.9320);">0</span>
<span class="t" style="left:881.08px;top:548px;font-size:10.8px;line-height:13px;font-weight:400;color:#999;letter-spacing:0.000px;transform:scaleX(1.0175);">80</span>
<span class="t" style="left:881.00px;top:587px;font-size:10.8px;line-height:13px;font-weight:400;color:#999;letter-spacing:0.000px;transform:scaleX(1.0244);">60</span>
<span class="t" style="left:881.31px;top:626px;font-size:10.8px;line-height:13px;font-weight:400;color:#999;letter-spacing:0.000px;transform:scaleX(0.9972);">40</span>
<span class="t" style="left:881.01px;top:665px;font-size:10.8px;line-height:13px;font-weight:400;color:#999;letter-spacing:0.000px;transform:scaleX(1.0229);">20</span>
<span class="t" style="left:887.65px;top:704px;font-size:10.8px;line-height:13px;font-weight:400;color:#999;letter-spacing:0.000px;transform:scaleX(0.9320);">0</span>
</body></html>
